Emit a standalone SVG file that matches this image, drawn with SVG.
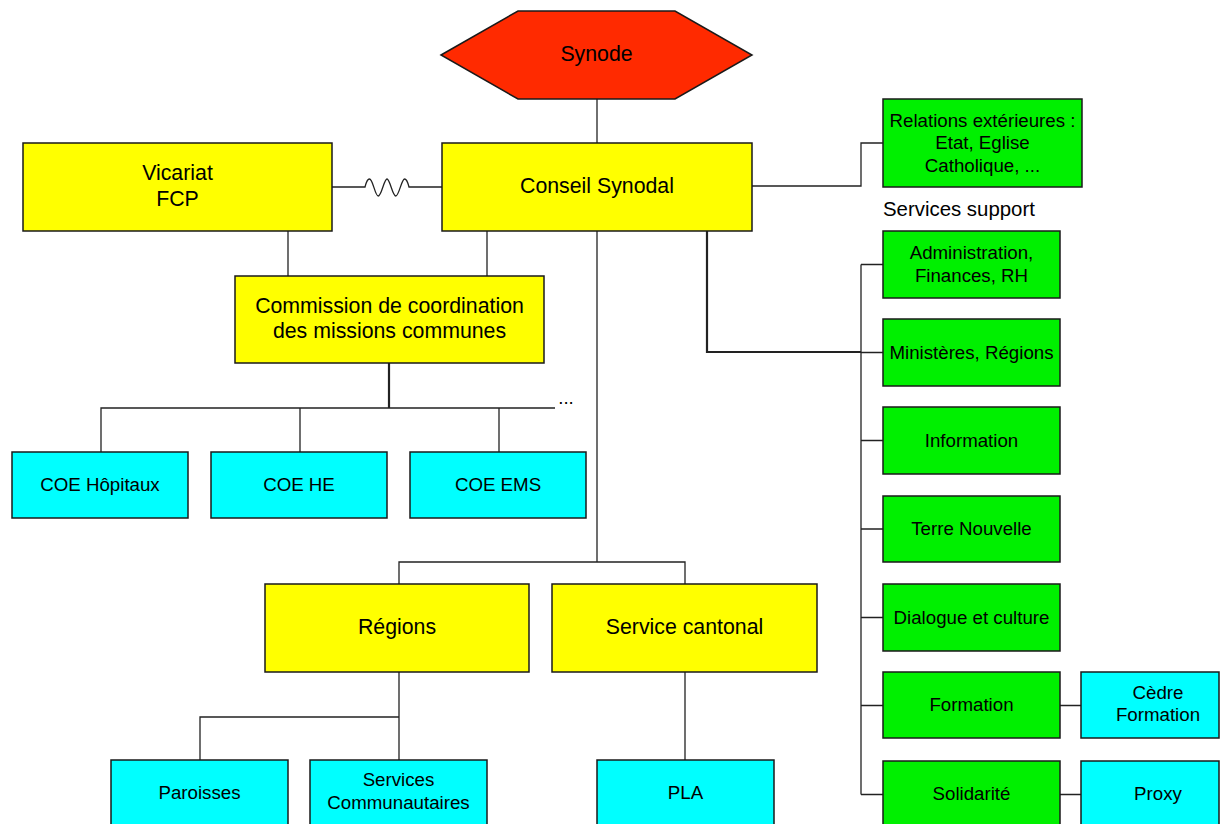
<svg xmlns="http://www.w3.org/2000/svg" width="1220" height="824" viewBox="0 0 1220 824">
<style>
.b{stroke:#1a1a1a;stroke-width:1.5}
.y{fill:#FFFF00}
.g{fill:#00F000}
.c{fill:#00FFFF}
.r{fill:#FF2A00}
.t{font-family:"Liberation Sans",Arial,sans-serif;fill:#000;text-anchor:middle}
.L{font-size:21.3px}
.S{font-size:18.7px}
.cn{fill:none;stroke:#222;stroke-width:1.3}
.th{stroke-width:2.2}
</style>
<rect width="1220" height="824" fill="#fff"/>
<g id="connectors">
<path class="cn" d="M597,99V143"/>
<path class="cn" d="M332,187H365C366,183 368,179 369.4,179C373,179 375,196 378.2,196C381.5,196 384,179 387,179C390,179 392.5,196 395.8,196C399,196 401.5,179 404.6,179C406.5,179 408,183 409,187H442"/>
<path class="cn" d="M288,231V276M487,231V276"/>
<path class="cn th" d="M389,363V408"/>
<path class="cn" d="M101,452V408H555M300,408V452M499,408V452"/>
<path class="cn" d="M752,186H861V143H883"/>
<path class="cn th" d="M707,231V352H861"/>
<path class="cn" d="M861,264.5V794.5M861,264.5H883M861,352.5H883M861,440.5H883M861,529H883M861,617.5H883M861,705.5H883M861,794.5H883"/>
<path class="cn" d="M1060,705.5H1081M1060,794.5H1081"/>
<path class="cn" d="M597,231V562M399,584V562H685V584"/>
<path class="cn" d="M399,672V760M399,717H200V760M685,672V760"/>
</g>
<g id="synode">
<polygon class="r b" points="441,55 518,11 675,11 752,55 675,99 518,99"/>
<text class="t L" x="596.5" y="61">Synode</text>
</g>
<g id="conseil">
<rect class="y b" x="442" y="143" width="310" height="88"/>
<text class="t L" x="597" y="193">Conseil Synodal</text>
</g>
<g id="vicariat">
<rect class="y b" x="23" y="143" width="309" height="88"/>
<text class="t L" x="177.5" y="180">Vicariat</text>
<text class="t L" x="177.5" y="206">FCP</text>
</g>
<g id="commission">
<rect class="y b" x="235" y="276" width="309" height="87"/>
<text class="t L" x="389.5" y="312.5">Commission de coordination</text>
<text class="t L" x="389.5" y="337.5">des missions communes</text>
</g>
<g id="coe-hopitaux">
<rect class="c b" x="12" y="452" width="176" height="66"/>
<text class="t S" x="100" y="491">COE Hôpitaux</text>
</g>
<g id="coe-he">
<rect class="c b" x="211" y="452" width="176" height="66"/>
<text class="t S" x="299" y="491">COE HE</text>
</g>
<g id="coe-ems">
<rect class="c b" x="410" y="452" width="176" height="66"/>
<text class="t S" x="498" y="491">COE EMS</text>
</g>
<g id="etc">
<text class="t S" x="566" y="404">...</text>
</g>
<g id="relations">
<rect class="g b" x="883" y="99" width="199" height="88"/>
<text class="t S" x="982.5" y="126.5">Relations extérieures :</text>
<text class="t S" x="982.5" y="149">Etat, Eglise</text>
<text class="t S" x="982.5" y="171.5">Catholique, ...</text>
</g>
<g id="services-support">
<text class="t" style="font-size:20.4px;text-anchor:start" x="883" y="216">Services support</text>
</g>
<g id="administration">
<rect class="g b" x="883" y="231" width="177" height="67"/>
<text class="t S" x="971.5" y="259">Administration,</text>
<text class="t S" x="971.5" y="281.5">Finances, RH</text>
</g>
<g id="ministeres">
<rect class="g b" x="883" y="319" width="177" height="67"/>
<text class="t S" x="971.5" y="359">Ministères, Régions</text>
</g>
<g id="information">
<rect class="g b" x="883" y="407" width="177" height="67"/>
<text class="t S" x="971.5" y="447">Information</text>
</g>
<g id="terre-nouvelle">
<rect class="g b" x="883" y="496" width="177" height="66"/>
<text class="t S" x="971.5" y="535">Terre Nouvelle</text>
</g>
<g id="dialogue">
<rect class="g b" x="883" y="584" width="177" height="67"/>
<text class="t S" x="971.5" y="624">Dialogue et culture</text>
</g>
<g id="formation">
<rect class="g b" x="883" y="672" width="177" height="66"/>
<text class="t S" x="971.5" y="711">Formation</text>
</g>
<g id="solidarite">
<rect class="g b" x="883" y="761" width="177" height="67"/>
<text class="t S" x="971.5" y="800">Solidarité</text>
</g>
<g id="cedre">
<rect class="c b" x="1081" y="672" width="138" height="66"/>
<text class="t S" x="1158" y="698.5">Cèdre</text>
<text class="t S" x="1158" y="721">Formation</text>
</g>
<g id="proxy">
<rect class="c b" x="1081" y="761" width="138" height="67"/>
<text class="t S" x="1158" y="800">Proxy</text>
</g>
<g id="regions">
<rect class="y b" x="265" y="584" width="264" height="88"/>
<text class="t L" x="397" y="634">Régions</text>
</g>
<g id="service-cantonal">
<rect class="y b" x="552" y="584" width="265" height="88"/>
<text class="t L" x="684.5" y="634">Service cantonal</text>
</g>
<g id="paroisses">
<rect class="c b" x="111" y="760" width="177" height="68"/>
<text class="t S" x="199.5" y="799">Paroisses</text>
</g>
<g id="services-communautaires">
<rect class="c b" x="310" y="760" width="177" height="68"/>
<text class="t S" x="398.5" y="786">Services</text>
<text class="t S" x="398.5" y="809">Communautaires</text>
</g>
<g id="pla">
<rect class="c b" x="597" y="760" width="177" height="68"/>
<text class="t S" x="685.5" y="799">PLA</text>
</g>
</svg>
